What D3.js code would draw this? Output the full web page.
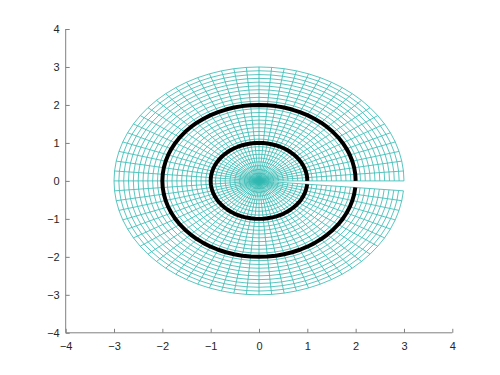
<!DOCTYPE html>
<html><head><meta charset="utf-8">
<script src="https://cdn.jsdelivr.net/npm/d3@7"></script>
<style>body{margin:0;background:#fff}svg{display:block}text{font-family:"Liberation Sans",Arial,sans-serif}</style>
</head><body>
<script>
// Data
const xTicks = [-4, -3, -2, -1, 0, 1, 2, 3, 4];
const yTicks = [-4, -3, -2, -1, 0, 1, 2, 3, 4];
const meshRadii = [0,0.1,0.2,0.3,0.4,0.5,0.6,0.7,0.8,0.9,1,1.1,1.2,1.3,1.4,1.5,1.6,1.7,1.8,1.9,2,2.1,2.2,2.3,2.4,2.5,2.6,2.7,2.8,2.9,3];
const anglesDeg = [0,5,10,15,20,25,30,35,40,45,50,55,60,65,70,75,80,85,90,95,100,105,110,115,120,125,130,135,140,145,150,155,160,165,170,175,180,185,190,195,200,205,210,215,220,225,230,235,240,245,250,255,260,265,270,275,280,285,290,295,300,305,310,315,320,325,330,335,340,345,350,355];
const circleRadii = [1, 2];

const W = 500, H = 375;
const svg = d3.select("body").append("svg").attr("width", W).attr("height", H);
const x = d3.scaleLinear().domain([-4, 4]).range([65.7, 452.3]);
const y = d3.scaleLinear().domain([-4, 4]).range([332.8, 29]);

const pt = (r, a) => [x(r * Math.cos(a * Math.PI / 180)), y(r * Math.sin(a * Math.PI / 180))];
const line = d3.line();

const mesh = svg.append("g").attr("fill", "none").attr("stroke", "#2fb8b0").attr("stroke-width", 0.8);
// rings
meshRadii.forEach(r => {
  mesh.append("path").attr("d", line(anglesDeg.map(a => pt(r, a))));
});
// radial lines
anglesDeg.forEach(a => {
  mesh.append("path").attr("d", line(meshRadii.map(r => pt(r, a))));
});

// black circles
const circ = svg.append("g").attr("fill", "none").attr("stroke", "#000").attr("stroke-width", 4).attr("stroke-linejoin", "round");
circleRadii.forEach(r => {
  circ.append("path").attr("d", line(anglesDeg.map(a => pt(r, a))));
});

// axes
const axisColor = "#808080";
const xAxis = svg.append("g").attr("transform", `translate(0,${y(-4)})`)
  .call(d3.axisBottom(x).tickValues(xTicks).tickSize(-4).tickPadding(9).tickFormat(d3.format("d")));
const yAxis = svg.append("g").attr("transform", `translate(${x(-4)},0)`)
  .call(d3.axisLeft(y).tickValues(yTicks).tickSize(-4).tickPadding(6).tickFormat(d3.format("d")));
[xAxis, yAxis].forEach(g => {
  g.select(".domain").attr("stroke", axisColor).attr("stroke-width", 1);
  g.selectAll(".tick line").attr("stroke", axisColor);
  g.selectAll(".tick text").attr("fill", "#262626").attr("font-size", 11).attr("font-family", "Liberation Sans, Arial, sans-serif");
});
xAxis.select(".domain").attr("d", `M${x(-4)},0H${x(4)}`);
yAxis.select(".domain").attr("d", `M0,${y(-4)}V${y(4)}`);
</script>
</body></html>
